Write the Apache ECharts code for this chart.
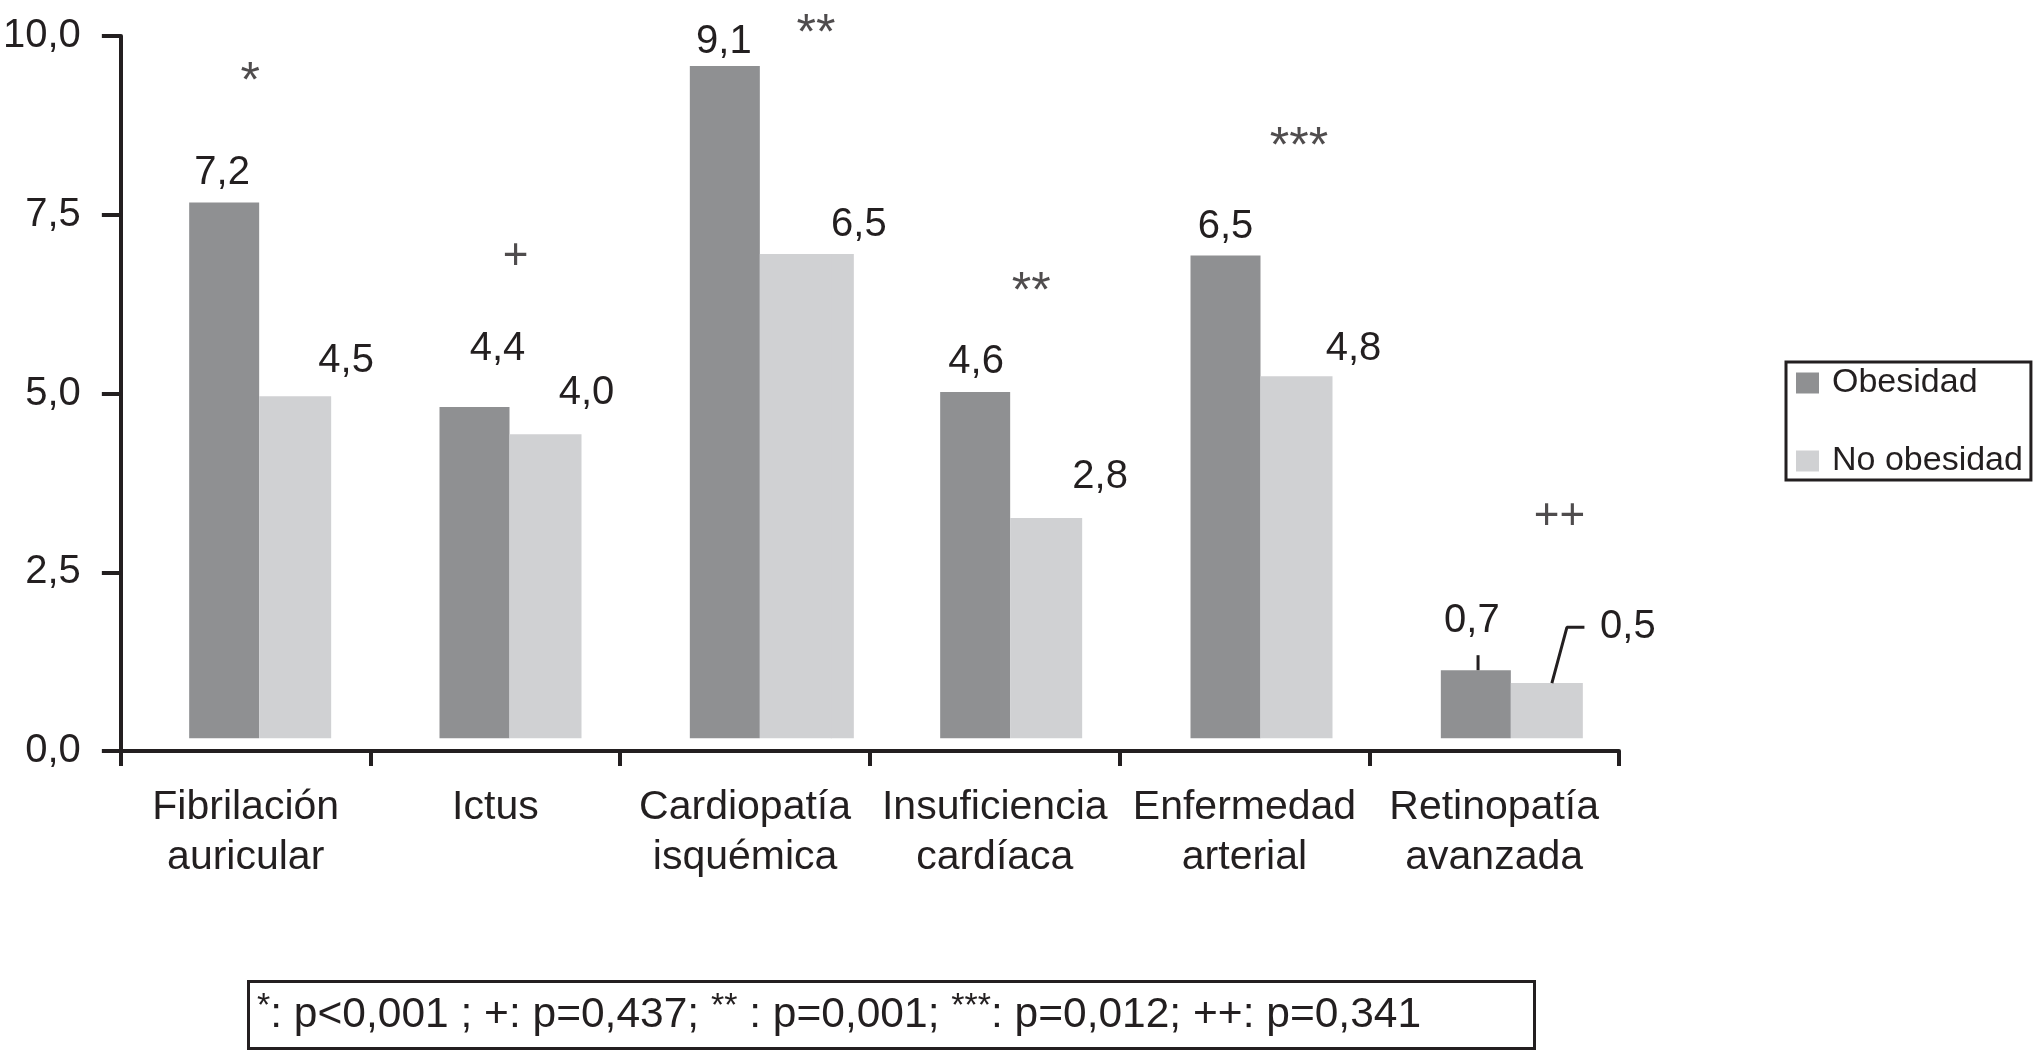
<!DOCTYPE html>
<html>
<head>
<meta charset="utf-8">
<script src="https://cdn.jsdelivr.net/npm/echarts@6/dist/echarts.min.js"></script>
<style>
html,body{margin:0;padding:0;background:#fff;}
#chart{width:2036px;height:1051px;}
</style>
</head>
<body>
<div id="chart"></div>
<script>
// ---- data ----
const categories = ['Fibrilación\nauricular', 'Ictus', 'Cardiopatía\nisquémica', 'Insuficiencia\ncardíaca', 'Enfermedad\narterial', 'Retinopatía\navanzada'];
const seriesNames = ['Obesidad', 'No obesidad'];
const obesidadLabels = [7.2, 4.4, 9.1, 4.6, 6.5, 0.7];
const noObesidadLabels = [4.5, 4.0, 6.5, 2.8, 4.8, 0.5];
const obesidadBarTops = [7.67, 4.81, 9.58, 5.02, 6.93, 1.13];
const noObesidadBarTops = [4.96, 4.43, 6.95, 3.26, 5.24, 0.95];
const barBase = 0.18;
const yTickValues = [0, 2.5, 5, 7.5, 10];
const markerTexts = ['*', '+', '**', '**', '***', '++'];
const markerX = [-0.04, 1.02, 2.22, 3.08, 4.15, 5.19];
const markerY = [9.50, 6.91, 10.17, 6.55, 8.59, 3.27];
const leaderObesidad = [[4.865, 1.13], [4.865, 1.34]];
const leaderNoObesidad = [[5.16, 0.95], [5.22, 1.73], [5.29, 1.73]];
const footnoteText = '{s|*}: p<0,001 ; +: p=0,437; {s|**} : p=0,001; {s|***}: p=0,012; ++: p=0,341';

// ---- layout / style ----
const INK = '#231f20';
const FONT = "'Liberation Sans', Arial, Helvetica, sans-serif";
const C_OB = '#8f9092';
const C_NO = '#d0d1d3';
const OB_W = 70, NO_W = 72;
const noExtraWidth = [0, 0, 22, 0, 0, 0];
const obLabelOffsets = [[-2, -30], [23, -58], [-1, -24], [1, -30], [0, -29], [-4, -49]];
const noLabelOffsets = [[51, -35], [41, -41], [63, -29], [54, -41], [57, -27], [81, -56]];

const fmt = v => v.toFixed(1).replace('.', ',');

function barData(tops, labels, offsets) {
  return tops.map((t, i) => ({
    value: +(t - barBase).toFixed(3),
    label: {
      show: true,
      position: 'top',
      distance: 0,
      align: 'center',
      verticalAlign: 'middle',
      offset: offsets[i],
      formatter: fmt(labels[i]),
      fontFamily: FONT,
      fontSize: 40,
      color: INK
    }
  }));
}

const markerData = markerTexts.map((t, i) => ({
  value: [markerX[i], markerY[i]],
  label: {
    show: true,
    position: 'inside',
    formatter: t,
    fontFamily: FONT,
    fontSize: t.indexOf('*') >= 0 ? 50 : 44,
    color: INK,
    offset: [0, t.indexOf('*') >= 0 ? 11 : 0]
  }
}));

const extraData = noObesidadBarTops
  .map((t, i) => [i, t, noExtraWidth[i]])
  .filter(d => d[2] > 0);

const chart = echarts.init(document.getElementById('chart'), null, { renderer: 'canvas' });

const option = {
  backgroundColor: '#ffffff',
  animation: false,
  textStyle: { fontFamily: FONT },
  title: {
    text: footnoteText,
    left: 248,
    top: 981,
    padding: [9, 114, 9, 9],
    borderColor: INK,
    borderWidth: 3,
    textStyle: {
      fontFamily: FONT,
      fontSize: 42.5,
      fontWeight: 'normal',
      color: INK,
      lineHeight: 50,
      rich: {
        s: { fontFamily: FONT, fontSize: 34, fontWeight: 'normal', color: INK, lineHeight: 10, verticalAlign: 'top' }
      }
    }
  },
  legend: {
    data: seriesNames,
    orient: 'vertical',
    left: 1786,
    top: 362,
    icon: 'rect',
    itemWidth: 23,
    itemHeight: 21,
    itemGap: 44,
    padding: [4, 8, 2, 10],
    borderColor: INK,
    borderWidth: 3,
    textStyle: { fontFamily: FONT, fontSize: 34, lineHeight: 34, color: INK, padding: [0, 0, 0, 8] }
  },
  grid: [
    { left: 117, right: 417, top: 36, bottom: 300, containLabel: false },
    { left: 135, right: 399, top: 36, bottom: 300, containLabel: false }
  ],
  xAxis: [
    {
      type: 'category', gridIndex: 0, data: categories,
      axisLine: { show: true, lineStyle: { color: INK, width: 4 } },
      axisTick: { show: true, inside: false, length: 15, lineStyle: { color: INK, width: 4 } },
      axisLabel: { show: true, margin: 32, interval: 0, fontFamily: FONT, fontSize: 41, lineHeight: 50, color: INK },
      splitLine: { show: false }
    },
    { type: 'category', gridIndex: 1, data: categories, show: false },
    { type: 'value', gridIndex: 1, min: -0.5, max: 5.5, show: false }
  ],
  yAxis: [
    {
      type: 'value', gridIndex: 0,
      min: yTickValues[0], max: yTickValues[yTickValues.length - 1],
      interval: yTickValues[1] - yTickValues[0],
      axisLine: { show: true, lineStyle: { color: INK, width: 4 } },
      axisTick: { show: true, inside: false, length: 19, lineStyle: { color: INK, width: 4 } },
      axisLabel: { show: true, margin: 40, fontFamily: FONT, fontSize: 40, color: INK, padding: [12, 0, 0, 0], formatter: v => fmt(v) },
      splitLine: { show: false }
    },
    { type: 'value', gridIndex: 1, min: yTickValues[0], max: yTickValues[yTickValues.length - 1], show: false }
  ],
  series: [
    {
      name: 'baseA', type: 'bar', xAxisIndex: 1, yAxisIndex: 1, stack: 'a',
      barWidth: OB_W, barGap: '0%', silent: true,
      itemStyle: { color: 'rgba(0,0,0,0)' },
      data: categories.map(() => barBase)
    },
    {
      name: seriesNames[0], type: 'bar', xAxisIndex: 1, yAxisIndex: 1, stack: 'a',
      barWidth: OB_W, barGap: '0%',
      itemStyle: { color: C_OB },
      data: barData(obesidadBarTops, obesidadLabels, obLabelOffsets)
    },
    {
      name: 'baseB', type: 'bar', xAxisIndex: 1, yAxisIndex: 1, stack: 'b',
      barWidth: NO_W, barGap: '0%', silent: true,
      itemStyle: { color: 'rgba(0,0,0,0)' },
      data: categories.map(() => barBase)
    },
    {
      name: seriesNames[1], type: 'bar', xAxisIndex: 1, yAxisIndex: 1, stack: 'b',
      barWidth: NO_W, barGap: '0%',
      itemStyle: { color: C_NO },
      data: barData(noObesidadBarTops, noObesidadLabels, noLabelOffsets)
    },
    {
      name: seriesNames[1], type: 'custom', xAxisIndex: 1, yAxisIndex: 1, silent: true,
      data: extraData,
      renderItem: function (params, api) {
        const top = api.coord([api.value(0), api.value(1)]);
        const base = api.coord([api.value(0), barBase]);
        const x0 = top[0] + (OB_W + NO_W) / 2 - 1;
        return {
          type: 'rect',
          shape: { x: x0, y: top[1], width: api.value(2) + 1, height: base[1] - top[1] },
          style: { fill: C_NO }
        };
      }
    },
    {
      name: 'markers', type: 'scatter', xAxisIndex: 2, yAxisIndex: 1,
      symbolSize: 0, clip: false, silent: true,
      data: markerData
    },
    {
      name: 'leader1', type: 'line', xAxisIndex: 2, yAxisIndex: 1,
      symbol: 'none', clip: false, silent: true,
      lineStyle: { color: INK, width: 3 },
      data: leaderObesidad
    },
    {
      name: 'leader2', type: 'line', xAxisIndex: 2, yAxisIndex: 1,
      symbol: 'none', clip: false, silent: true,
      lineStyle: { color: INK, width: 3 },
      data: leaderNoObesidad
    }
  ]
};

chart.setOption(option);
</script>
</body>
</html>
